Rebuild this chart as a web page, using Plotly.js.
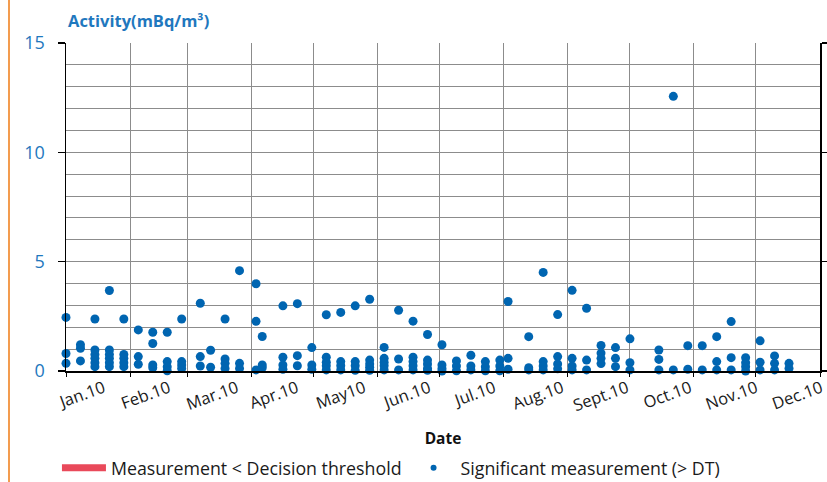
<!DOCTYPE html>
<html><head><meta charset="utf-8">
<script src="https://cdn.plot.ly/plotly-3.0.1.min.js"></script>
<style>html,body{margin:0;padding:0;background:#fff}#chart{width:827px;height:482px}</style>
</head><body><div id="chart"></div>
<script>
// Weekly sampling dates (2010) and the significant activities measured on each date (mBq/m3)
const sampleDates = [
  '2010-01-01','2010-01-08','2010-01-15','2010-01-22','2010-01-29',
  '2010-02-05','2010-02-12','2010-02-19','2010-02-26',
  '2010-03-07','2010-03-12','2010-03-19','2010-03-26',
  '2010-04-03','2010-04-06','2010-04-16','2010-04-23','2010-04-30',
  '2010-05-07','2010-05-14','2010-05-21','2010-05-28',
  '2010-06-04','2010-06-11','2010-06-18','2010-06-25',
  '2010-07-02','2010-07-09','2010-07-16','2010-07-23','2010-07-30',
  '2010-08-03','2010-08-13','2010-08-20','2010-08-27',
  '2010-09-03','2010-09-10','2010-09-17','2010-09-24',
  '2010-10-01','2010-10-15','2010-10-22','2010-10-29',
  '2010-11-05','2010-11-12','2010-11-19','2010-11-26',
  '2010-12-03','2010-12-10','2010-12-17'
];
const sampleValues = [
  [2.45,0.80,0.35],[1.20,1.04,0.46],[2.38,0.96,0.76,0.58,0.38,0.20],[3.68,0.96,0.76,0.58,0.38,0.20],[2.38,0.76,0.58,0.38,0.20],
  [1.88,0.66,0.31],[1.77,1.26,0.28,0.15],[1.77,0.43,0.20,0.01],[2.38,0.43,0.28,0.12,-0.03],
  [3.10,0.66,0.23],[0.95,0.17],[2.38,0.55,0.35,0.12],[4.59,0.35,0.12],
  [3.99,2.27,0.05],[1.58,0.28,0.15],[2.98,0.63,0.28,0.08],[3.08,0.70,0.24],[1.07,0.28,0.08],
  [2.57,0.63,0.40,0.24,0.05],[2.68,0.43,0.24,0.05],[2.98,0.43,0.24,0.03],[3.28,0.50,0.32,0.17,0.03],
  [1.08,0.58,0.40,0.24,0.05],[2.78,0.55,0.05],[2.28,0.63,0.43,0.24,0.05],[1.67,0.50,0.32,0.12,0.03],
  [1.20,0.28,0.12,0.00],[0.46,0.23,0.01],[0.72,0.23,0.05,-0.02],[0.43,0.20,0.01],[0.50,0.23,0.01],
  [3.18,0.58,0.08],[1.57,0.15,0.05],[4.51,0.43,0.23,0.05],[2.58,0.66,0.32,0.10],
  [3.69,0.58,0.23,0.05],[2.87,0.50,0.05],[1.17,0.82,0.58,0.34],[1.07,0.58,0.20],
  [1.47,0.38,0.05],[0.96,0.53,0.05],[12.56,0.05],[1.16,0.08],
  [1.16,0.05],[1.57,0.43,0.05],[2.26,0.61,0.05],[0.61,0.38,0.20,0.00],
  [1.38,0.40,0.05],[0.69,0.35,0.05],[0.35,0.12]
];
const monthLabels = ['Jan.10','Feb.10','Mar.10','Apr.10','May10','Jun.10','Jul.10','Aug.10','Sept.10','Oct.10','Nov.10','Dec.10'];
const monthLabelDates = ['2010-01-11','2010-02-11 14:00','2010-03-16 12:00','2010-04-14 12:00','2010-05-17','2010-06-17 12:00',
  '2010-07-19','2010-08-20 22:00','2010-09-21 08:00','2010-10-21 20:00','2010-11-22 20:00','2010-12-24 08:00'];
const yTicks = [0,5,10,15];
const yTickText = ['0','5','10','15'];
const legendNames = ['Measurement < Decision threshold','Significant measurement (> DT)'];
const xTitle = 'Date';
const yTitle = 'Activity(mBq/m³)';

const xs = [], ys = [];
sampleDates.forEach((d,i) => sampleValues[i].forEach(v => { xs.push(d); ys.push(v); }));

const blue = '#0065b1';
const traces = [
  {x:[null], y:[null], type:'scatter', mode:'lines', name:legendNames[0],
   line:{color:'#e9495a', width:7}, hoverinfo:'skip'},
  {x:[null], y:[null], type:'scatter', mode:'markers', name:legendNames[1],
   marker:{color:blue, size:6}, hoverinfo:'skip'},
  {x:xs, y:ys, type:'scatter', mode:'markers', showlegend:false, cliponaxis:false,
   marker:{color:blue, size:9, line:{width:0}}, name:legendNames[1]}
];

const grid = '#8c8c8c';
const layout = {
  width:827, height:482,
  margin:{l:66, r:7, t:43, b:111, pad:0, autoexpand:false},
  paper_bgcolor:'#ffffff', plot_bgcolor:'#ffffff',
  font:{family:'"Open Sans", "Noto Sans", sans-serif', color:'#1a1a1a'},
  showlegend:true,
  xaxis:{
    type:'date', range:['2010-01-01','2011-01-01'], fixedrange:true,
    tickmode:'array', tickvals:monthLabelDates, ticktext:monthLabels,
    tickangle:-20, ticks:'', ticklabelshift:17, ticklabeloverflow:'allow',
    tickfont:{size:16.5, color:'#1a1a1a'},
    showgrid:false, zeroline:false,
    showline:true, linecolor:'#000', linewidth:1.5,
    minor:{tickmode:'linear', tick0:'2010-01-01', dtick:'M1', ticks:'outside', ticklen:4,
           tickcolor:'#000', tickwidth:1, showgrid:true, gridcolor:grid, gridwidth:1},
    title:{text:'<b>'+xTitle+'</b>', font:{size:15.5, color:'#111'}, standoff:18}
  },
  yaxis:{
    range:[0,15], fixedrange:true,
    tickmode:'array', tickvals:yTicks, ticktext:yTickText,
    ticks:'outside', ticklen:7, tickcolor:'#000', tickwidth:1.2, ticklabelstandoff:9,
    tickfont:{size:18, color:'#1f78be'},
    showline:true, linecolor:'#000', linewidth:1.5, mirror:'ticks',
    showgrid:true, gridcolor:grid, gridwidth:1, zeroline:false,
    minor:{tickmode:'linear', tick0:0, dtick:1, showgrid:true, gridcolor:grid, gridwidth:1, ticks:''}
  },
  legend:{orientation:'h', x:-0.012, xanchor:'left', y:-0.296, yanchor:'middle', itemwidth:44,
          font:{size:17.8, color:'#1a1a1a'}, bgcolor:'rgba(0,0,0,0)', itemclick:false},
  annotations:[{text:'<b>'+yTitle+'</b>', xref:'paper', yref:'paper', x:0, y:1.07,
                xanchor:'left', yanchor:'middle', showarrow:false,
                font:{size:16.5, color:'#1f78be'}}],
  shapes:[{type:'line', xref:'paper', yref:'paper', x0:-0.0756, x1:-0.0756, y0:-0.34, y1:1.135,
           line:{color:'#f39c4f', width:2}}]
};
Plotly.newPlot('chart', traces, layout, {displayModeBar:false, staticPlot:true});
</script>
</body></html>
